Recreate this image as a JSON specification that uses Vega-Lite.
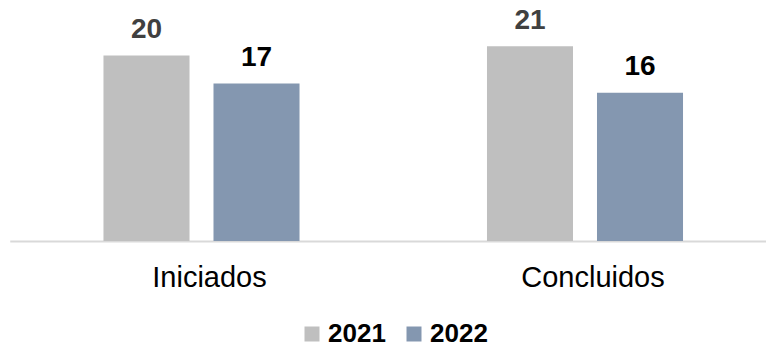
{
  "$schema": "https://vega.github.io/schema/vega-lite/v6.json",
  "width": 757,
  "height": 241,
  "autosize": {"type": "none"},
  "padding": {"left": 9, "top": 0, "right": 0, "bottom": 107},
  "background": "white",
  "config": {
    "view": {"stroke": null},
    "font": "Liberation Sans"
  },
  "data": {
    "values": [
      {"categoria": "Iniciados", "ano": "2021", "valor": 20},
      {"categoria": "Iniciados", "ano": "2022", "valor": 17},
      {"categoria": "Concluidos", "ano": "2021", "valor": 21},
      {"categoria": "Concluidos", "ano": "2022", "valor": 16}
    ]
  },
  "encoding": {
    "x": {
      "field": "categoria",
      "type": "nominal",
      "sort": ["Iniciados", "Concluidos"],
      "scale": {"range": [0.75, 767.75], "paddingInner": 0, "paddingOuter": 0},
      "axis": {
        "title": null,
        "ticks": false,
        "labelAngle": 0,
        "labelFontSize": 29,
        "labelColor": "#000000",
        "labelPadding": 22,
        "labelOffset": 8,
        "domainColor": "#D9D9D9",
        "domainWidth": 2,
        "grid": false
      }
    },
    "xOffset": {
      "field": "ano",
      "type": "nominal",
      "scale": {"paddingInner": 0.218, "paddingOuter": 0.852}
    },
    "y": {
      "field": "valor",
      "type": "quantitative",
      "scale": {"domain": [0, 26], "nice": false},
      "axis": null
    }
  },
  "layer": [
    {
      "mark": {"type": "bar"},
      "encoding": {
        "color": {
          "field": "ano",
          "type": "nominal",
          "scale": {"domain": ["2021", "2022"], "range": ["#BFBFBF", "#8497B0"]},
          "legend": {
            "title": null,
            "orient": "none",
            "legendX": 290,
            "legendY": 321,
            "padding": 0,
            "direction": "horizontal",
            "symbolType": "square",
            "symbolSize": 225,
            "symbolStrokeWidth": 0,
            "labelFontSize": 26,
            "labelFontWeight": "bold",
            "labelColor": "#000000",
            "labelOffset": 3,
            "columnPadding": 15
          }
        }
      }
    },
    {
      "mark": {"type": "text", "baseline": "alphabetic", "dy": -17.5, "fontSize": 28, "fontWeight": "bold"},
      "encoding": {
        "text": {"field": "valor", "type": "quantitative"},
        "color": {
          "condition": {"test": "datum.ano === '2021'", "value": "#404040"},
          "value": "#000000"
        }
      }
    }
  ]
}
